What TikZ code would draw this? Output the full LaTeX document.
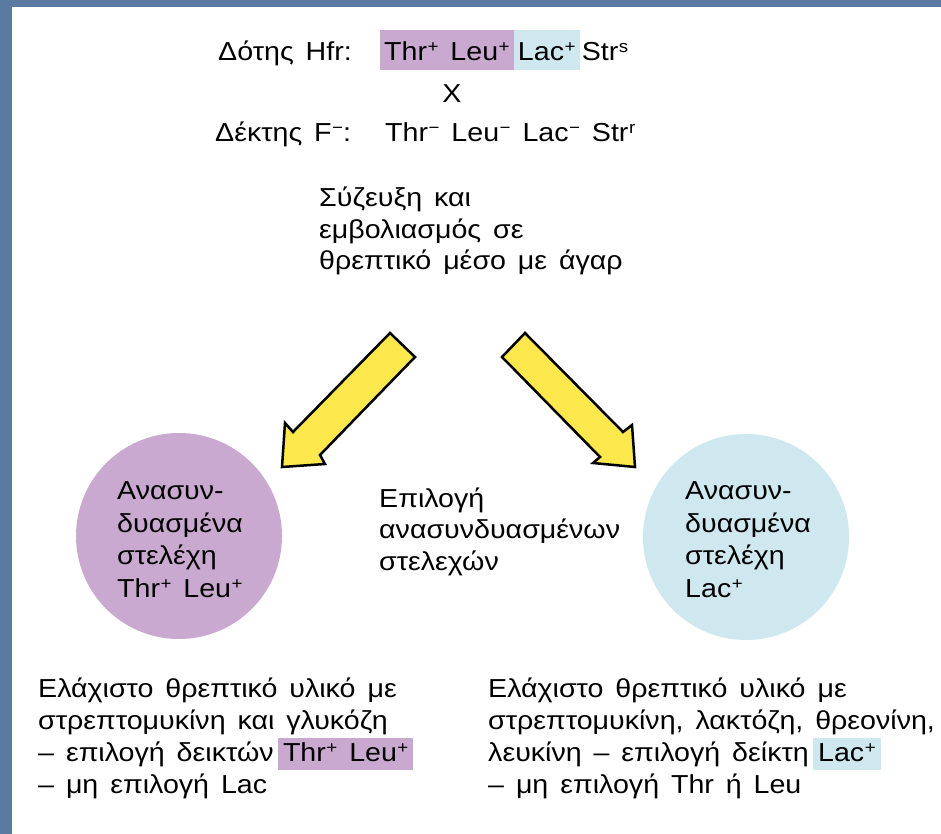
\documentclass[tikz,border=0pt]{standalone}
\usepackage{fontspec}
\setmainfont{Liberation Sans}[FakeStretch=1.1, WordSpace=1.5]
\definecolor{bord}{HTML}{5A7AA2}
\definecolor{purp}{HTML}{C9A9CF}
\definecolor{lblue}{HTML}{CFE7EE}
\definecolor{arry}{HTML}{FCE84C}
\newcommand{\sps}[1]{\kern0.5pt\raisebox{8pt}{\fontsize{17}{17}\selectfont #1}}
\tikzset{
  x=1pt, y=-1pt,
  txt/.style={anchor=base west, inner sep=0pt, font=\fontsize{26}{32}\selectfont},
  hltop/.style={txt, inner xsep=4pt, inner ysep=0pt, text height=31pt, text depth=9pt},
  hlbot/.style={txt, inner xsep=5pt, inner ysep=0pt, text height=23pt, text depth=9pt},
  bigarrow/.style={fill=arry, draw=black, line width=2.5pt, line join=miter},
  blob/.style={circle, minimum size=206pt, inner sep=0pt}
}
\begin{document}
\begin{tikzpicture}
\useasboundingbox (0,0) rectangle (941,834);
\fill[bord] (0,0) rectangle (941,834);
\fill[white] (12,7) rectangle (941,834);

% top
\node[txt] (d1) at (218,61) {Δότης Hfr:};
\node[hltop, fill=purp] (p1) at (380,61) {Thr\sps{+} Leu\sps{+}};
\node[hltop, fill=lblue] (b1) at (p1.base east) {Lac\sps{+}};
\node[txt] (s1) at ([xshift=2pt]b1.base east) {Str\sps{s}};
\node[txt, anchor=base] (x1) at (452,103) {X};
\node[txt] (d2) at (215,142) {Δέκτης F\sps{−}:};
\node[txt] (r2) at (385,142) {Thr\sps{−} Leu\sps{−} Lac\sps{−} Str\sps{r}};

% conjugation text
\node[txt] (t1) at (319,207) {Σύζευξη και};
\node[txt] (t2) at (319,238) {εμβολιασμός σε};
\node[txt] (t3) at (319,269) {θρεπτικό μέσο με άγαρ};

% arrows
\draw[bigarrow] (390,333) -- (293,432) -- (285,423) -- (282,467) -- (325,464) -- (320,455) -- (415,357) -- cycle;
\draw[bigarrow] (525,333) -- (623,432) -- (632,425) -- (635,467) -- (593,463) -- (600,457) -- (502,357) -- cycle;

% circles
\node[blob, fill=purp] (c1) at (179,536) {};
\node[blob, fill=lblue] (c2) at (746,537) {};
\node[txt] (l1) at (117,499) {Ανασυν-};
\node[txt] (l2) at (117,532) {δυασμένα};
\node[txt] (l3) at (117,564) {στελέχη};
\node[txt] (l4) at (117,597) {Thr\sps{+} Leu\sps{+}};
\node[txt] (q1) at (685,499) {Ανασυν-};
\node[txt] (q2) at (685,532) {δυασμένα};
\node[txt] (q3) at (685,564) {στελέχη};
\node[txt] (q4) at (685,597) {Lac\sps{+}};

% middle
\node[txt] (m1) at (379,507) {Επιλογή};
\node[txt] (m2) at (379,538) {ανασυνδυασμένων};
\node[txt] (m3) at (379,570) {στελεχών};

% bottom left
\node[txt] (a1) at (38,697) {Ελάχιστο θρεπτικό υλικό με};
\node[txt] (a2) at (38,729) {στρεπτομυκίνη και γλυκόζη};
\node[txt] (a3) at (38,761) {– επιλογή δεικτών};
\node[hlbot, fill=purp] (a3h) at ([xshift=4pt]a3.base east) {Thr\sps{+} Leu\sps{+}};
\node[txt] (a4) at (38,793) {– μη επιλογή Lac};

% bottom right
\node[txt] (b1a) at (488,697) {Ελάχιστο θρεπτικό υλικό με};
\node[txt] (b2a) at (488,729) {στρεπτομυκίνη, λακτόζη, θρεονίνη,};
\node[txt] (b3a) at (488,761) {λευκίνη – επιλογή δείκτη};
\node[hlbot, fill=lblue] (b3h) at ([xshift=4pt]b3a.base east) {Lac\sps{+}};
\node[txt] (b4a) at (488,793) {– μη επιλογή Thr ή Leu};
\end{tikzpicture}
\end{document}
